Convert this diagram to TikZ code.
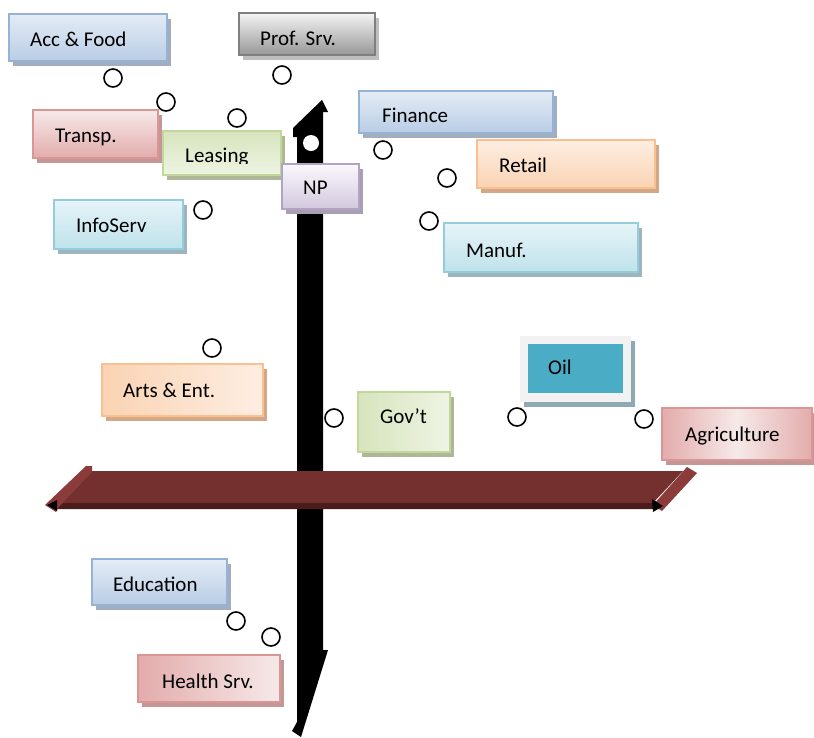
\documentclass[tikz,border=0pt]{standalone}
\usepackage{fontspec}
\setmainfont{Carlito}
\usetikzlibrary{fit,shadows}
\definecolor{blueB}{HTML}{95B3D7}\definecolor{blueT}{HTML}{E4ECF6}\definecolor{blueD}{HTML}{B9CDE5}\definecolor{blueS}{HTML}{A2AEBE}
\definecolor{grayB}{HTML}{7F7F7F}\definecolor{grayT}{HTML}{F4F4F4}\definecolor{grayD}{HTML}{979797}\definecolor{grayS}{HTML}{BEBEBE}
\definecolor{redB}{HTML}{D99694}\definecolor{redT}{HTML}{F7E9E9}\definecolor{redD}{HTML}{E2ACAB}\definecolor{redS}{HTML}{C49796}
\definecolor{greenB}{HTML}{C3D69B}\definecolor{greenT}{HTML}{D7E4BD}\definecolor{greenD}{HTML}{EEF4E3}\definecolor{greenS}{HTML}{AEB896}
\definecolor{purB}{HTML}{B3A2C7}\definecolor{purT}{HTML}{FAF8FC}\definecolor{purD}{HTML}{D2C8DE}\definecolor{purS}{HTML}{A89FB3}
\definecolor{aquaB}{HTML}{93CDDD}\definecolor{aquaT}{HTML}{E6F4F8}\definecolor{aquaD}{HTML}{BFE2EB}\definecolor{aquaS}{HTML}{9DB5BC}
\definecolor{orB}{HTML}{FAC090}\definecolor{orT}{HTML}{FAD3B3}\definecolor{orD}{HTML}{FDEEE2}\definecolor{orS}{HTML}{D2A888}
\definecolor{oilF}{HTML}{4BACC6}\definecolor{oilO}{HTML}{F2F2F2}\definecolor{oilS}{HTML}{8FA9B3}
\definecolor{barM}{HTML}{742F2F}\definecolor{barD}{HTML}{4A1D1D}\definecolor{barL}{HTML}{8C3B3B}
\tikzset{
  boxbase/.style={rectangle, inner sep=0pt, line width=2.2pt},
  shd/.style={drop shadow={shadow xshift=4pt, shadow yshift=-5pt, opacity=1, fill=#1}},
  bluebox/.style={boxbase, draw=blueB, top color=blueT, bottom color=blueD, shd=blueS},
  graybox/.style={boxbase, draw=grayB, top color=grayT, bottom color=grayD, shd=grayS},
  redbox/.style={boxbase, draw=redB, top color=redT, bottom color=redD, shd=redS},
  greenbox/.style={boxbase, draw=greenB, top color=greenT, bottom color=greenD, shd=greenS},
  purbox/.style={boxbase, draw=purB, top color=purT, bottom color=purD, shd=purS},
  aquabox/.style={boxbase, draw=aquaB, top color=aquaT, bottom color=aquaD, shd=aquaS},
  orbox/.style={boxbase, draw=orB, top color=orD, bottom color=orT, shd=orS},
  lbl/.style={inner sep=0pt, anchor=base west, font=\fontsize{21}{24}\selectfont},
  ring/.style={circle, draw=black, fill=white, line width=1.6pt, minimum size=18pt, inner sep=0pt},
}
\begin{document}
\begin{tikzpicture}[x=1pt,y=-1pt]
\useasboundingbox (0,0) rectangle (814,737);
% vertical black arrow
\fill[black] (297,137) -- (293,137) -- (293,128) -- (322,100) -- (328,112) -- (323,112)
  -- (323,650) -- (328,650) -- (301,737) -- (292,731) -- (297,722) -- cycle;
\node[circle, fill=white, minimum size=16pt, inner sep=0pt] (hole) at (311,143) {};
% horizontal red arrow
\fill[barM] (92,471) -- (683,471) -- (652,504) -- (60,504) -- cycle;
\fill[barD] (58,503) -- (654,503) -- (660,509) -- (57,509) -- cycle;
\fill[barL] (86,466) -- (92,466) -- (92,472) -- (58,508) -- (56,512) -- (45,505) -- cycle;
\fill[barL] (653,505) -- (687,467) -- (697,473) -- (662,511) -- cycle;
\fill[black] (47,505) -- (57,500) -- (57,511) -- cycle;
\fill[black] (652,499) -- (663,506) -- (653,512) -- cycle;
% boxes
\node[bluebox, fit={(9,14)(167,61)}] (acc) {};
\node[lbl] (accT) at (30,46) {Acc \& Food};
\node[graybox, fit={(239,13)(375,55)}] (prof) {};
\node[lbl] (profT) at (260,45) {Prof. Srv.};
\node[redbox, fit={(33,110)(158,158)}] (tra) {};
\node[lbl] (traT) at (55,142) {Transp.};
\node[greenbox, fit={(163,131)(281,175)}] (lea) {};
\begin{scope}
\clip (163,131) rectangle (281,163.5);
\node[lbl] (leaT) at (185,162) {Leasing};
\end{scope}
\node[purbox, fit={(282,164)(359,209)}] (np) {};
\node[lbl] (npT) at (303,194) {NP};
\node[aquabox, fit={(54,200)(183,249)}] (info) {};
\node[lbl] (infoT) at (76,232) {InfoServ};
\node[bluebox, fit={(359,91)(553,133)}] (fin) {};
\node[lbl] (finT) at (382,122) {Finance};
\node[orbox, fit={(477,140)(655,188)}] (ret) {};
\node[lbl] (retT) at (499,172) {Retail};
\node[aquabox, fit={(444,223)(638,272)}] (man) {};
\node[lbl] (manT) at (466,257) {Manuf.};
\node[orbox, left color=orT, right color=orD, fit={(102,364)(263,416)}] (arts) {};
\node[lbl] (artsT) at (123,397) {Arts \& Ent.};
\node[greenbox, left color=greenT, right color=greenD, fit={(358,392)(450,452)}] (gov) {};
\node[lbl] (govT) at (380,423) {Gov’t};
\node[rectangle, inner sep=0pt, fill=oilO, shd=oilS, fit={(520,336)(631,402)}] (oilo) {};
\node[rectangle, inner sep=0pt, fill=oilF, fit={(528,344)(623,393)}] (oil) {};
\node[lbl] (oilT) at (548,374) {Oil};
\node[redbox, left color=redD, right color=redD, middle color=redT, fit={(662,408)(812,460)}] (agr) {};
\node[lbl] (agrT) at (685,441) {Agriculture};
\node[bluebox, fit={(92,559)(227,605)}] (edu) {};
\node[lbl] (eduT) at (113,591) {Education};
\node[redbox, left color=redD, right color=redT, fit={(138,655)(280,702)}] (hea) {};
\node[lbl] (heaT) at (162,688) {Health Srv.};
% rings
\node[ring] (c1) at (113,78) {};
\node[ring] (c2) at (166,102) {};
\node[ring] (c3) at (237,118) {};
\node[ring] (c4) at (282,75) {};
\node[ring] (c5) at (203,210) {};
\node[ring] (c6) at (383,150) {};
\node[ring] (c7) at (447,178) {};
\node[ring] (c8) at (429,221) {};
\node[ring] (c9) at (212,348) {};
\node[ring] (c10) at (334,418) {};
\node[ring] (c11) at (517,417) {};
\node[ring] (c12) at (644,419) {};
\node[ring] (c13) at (236,621) {};
\node[ring] (c14) at (271,637) {};
\end{tikzpicture}
\end{document}
